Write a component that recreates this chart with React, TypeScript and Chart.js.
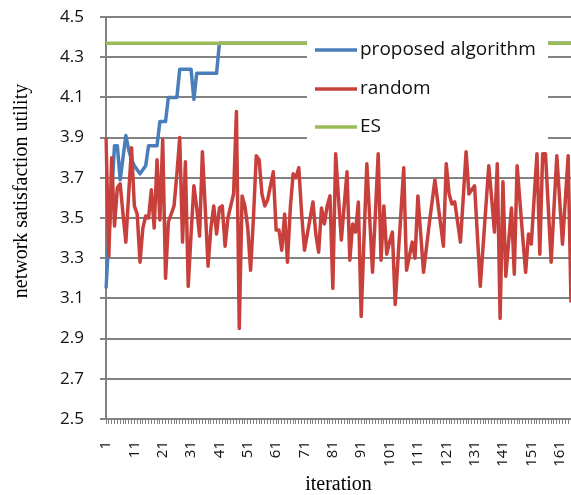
import React, { useEffect, useRef } from 'react';
import { Chart, registerables } from 'chart.js';

Chart.register(...registerables);

const iterationLabels: string[] = Array.from({ length: 165 }, (_, i) => String(i + 1));

const yTickValues = [2.5, 2.7, 2.9, 3.1, 3.3, 3.5, 3.7, 3.9, 4.1, 4.3, 4.5];

const proposedIterations = [1, 2, 3, 4, 5, 6, 7, 8, 9, 10, 11, 12, 13, 14, 15, 16, 19, 20, 22, 23, 26, 27, 31, 32, 33, 40, 41, 165];
const proposedValues = [3.15, 3.40, 3.62, 3.86, 3.86, 3.69, 3.80, 3.91, 3.84, 3.79, 3.76, 3.74, 3.72, 3.74, 3.76, 3.86, 3.86, 3.98, 3.98, 4.10, 4.10, 4.24, 4.24, 4.09, 4.22, 4.22, 4.37, 4.37];

const randomValues = [
  3.90, 3.31, 3.80, 3.46, 3.65, 3.67, 3.52, 3.38, 3.62, 3.85,
  3.56, 3.52, 3.28, 3.45, 3.51, 3.50, 3.64, 3.45, 3.79, 3.49,
  3.89, 3.20, 3.48, 3.52, 3.56, 3.72, 3.90, 3.38, 3.78, 3.16,
  3.42, 3.66, 3.55, 3.41, 3.83, 3.55, 3.26, 3.45, 3.56, 3.42,
  3.55, 3.56, 3.36, 3.50, 3.56, 3.62, 4.03, 2.95, 3.61, 3.56,
  3.45, 3.24, 3.50, 3.81, 3.79, 3.62, 3.56, 3.59, 3.66, 3.73,
  3.44, 3.44, 3.34, 3.52, 3.28, 3.55, 3.72, 3.70, 3.75, 3.52,
  3.34, 3.42, 3.50, 3.58, 3.42, 3.33, 3.55, 3.47, 3.56, 3.61,
  3.15, 3.82, 3.60, 3.39, 3.56, 3.73, 3.29, 3.47, 3.43, 3.58,
  3.01, 3.40, 3.77, 3.50, 3.23, 3.52, 3.82, 3.29, 3.56, 3.32,
  3.38, 3.43, 3.07, 3.30, 3.52, 3.75, 3.24, 3.31, 3.38, 3.30,
  3.61, 3.42, 3.23, 3.35, 3.47, 3.58, 3.69, 3.58, 3.47, 3.36,
  3.77, 3.62, 3.57, 3.58, 3.48, 3.38, 3.60, 3.83, 3.62, 3.64,
  3.66, 3.41, 3.16, 3.36, 3.56, 3.76, 3.60, 3.43, 3.77, 3.00,
  3.68, 3.21, 3.38, 3.55, 3.22, 3.76, 3.58, 3.40, 3.23, 3.42,
  3.37, 3.60, 3.82, 3.32, 3.82, 3.82, 3.55, 3.28, 3.55, 3.81,
  3.59, 3.37, 3.59, 3.81, 3.08,
];

const esIterations = [1, 165];
const esValues = [4.37, 4.37];

const seriesNames = ['proposed algorithm', 'random', 'ES'];
const seriesColors = ['#4A7EBB', '#C8403C', '#9BBB59'];

const xTitle = 'iteration';
const yTitleText = 'network satisfaction utility';

const gridColor = '#828282';

const legendBox = { left: 307, top: 29, width: 241, height: 116 };
const legendRows = [50, 89, 127];

// Horizontal grid lines under the series, placed by the y scale.
const horizontalGrid = {
  id: 'horizontalGrid',
  beforeDatasetsDraw(chart: any) {
    const ctx = chart.ctx;
    const area = chart.chartArea;
    const yScale = chart.scales.y;
    const left = Number(area.left);
    const right = Number(area.right);
    ctx.save();
    ctx.fillStyle = gridColor;
    yTickValues.forEach((v) => {
      let py = Number(yScale.getPixelForValue(v));
      if (!isFinite(py)) {
        py = Number(area.top) + ((4.5 - v) / 2.0) * (Number(area.bottom) - Number(area.top));
      }
      const yy = Math.round(py);
      ctx.fillRect(left - 6, yy - 1, right - left + 6, 2);
    });
    ctx.restore();
  },
};

const legendAndTitle = {
  id: 'legendAndTitle',
  afterDraw(chart: any) {
    const ctx = chart.ctx;
    ctx.save();
    ctx.fillStyle = '#ffffff';
    ctx.fillRect(legendBox.left, legendBox.top, legendBox.width, legendBox.height);
    chart.data.datasets.forEach((ds: any, i: number) => {
      const y = legendRows[i];
      ctx.strokeStyle = ds.borderColor;
      ctx.lineWidth = 3.5;
      ctx.lineCap = 'butt';
      ctx.beginPath();
      ctx.moveTo(315, y);
      ctx.lineTo(357, y);
      ctx.stroke();
      ctx.fillStyle = '#111111';
      ctx.font = '19px "Open Sans"';
      ctx.textAlign = 'left';
      ctx.textBaseline = 'middle';
      ctx.fillText(ds.label, 360, y);
    });
    ctx.restore();

    ctx.save();
    ctx.translate(22, 191);
    ctx.rotate(-Math.PI / 2);
    ctx.font = '20px "Liberation Serif"';
    ctx.fillStyle = '#000000';
    ctx.textAlign = 'center';
    ctx.textBaseline = 'middle';
    ctx.fillText(yTitleText, 0, 0);
    ctx.restore();
  },
};

export default function App() {
  const canvasRef = useRef<HTMLCanvasElement | null>(null);

  useEffect(() => {
    if (!canvasRef.current) return;
    const toPoints = (its: number[], vals: number[]) => its.map((it, k) => ({ x: String(it), y: vals[k] }));
    const chart = new Chart(canvasRef.current, {
      type: 'line',
      data: {
        labels: iterationLabels,
        datasets: [
          {
            label: seriesNames[0],
            data: toPoints(proposedIterations, proposedValues) as any,
            borderColor: seriesColors[0],
            backgroundColor: seriesColors[0],
            borderWidth: 3.5,
            pointRadius: 0,
            tension: 0,
            fill: false,
            borderJoinStyle: 'round',
            order: 3,
          },
          {
            label: seriesNames[1],
            data: randomValues,
            borderColor: seriesColors[1],
            backgroundColor: seriesColors[1],
            borderWidth: 3.5,
            pointRadius: 0,
            tension: 0,
            fill: false,
            borderJoinStyle: 'round',
            order: 2,
          },
          {
            label: seriesNames[2],
            data: toPoints(esIterations, esValues) as any,
            borderColor: seriesColors[2],
            backgroundColor: seriesColors[2],
            borderWidth: 3.5,
            pointRadius: 0,
            tension: 0,
            fill: false,
            order: 1,
          },
        ],
      },
      options: {
        animation: false,
        responsive: false,
        devicePixelRatio: 1,
        layout: { padding: { left: 0, right: 0, top: 17, bottom: 0 } },
        plugins: {
          legend: { display: false },
          tooltip: { enabled: false },
        },
        scales: {
          x: {
            type: 'category',
            offset: false,
            grid: {
              display: true,
              drawOnChartArea: false,
              drawTicks: true,
              tickLength: 5,
              color: gridColor,
            },
            border: { display: true, color: gridColor, width: 2 },
            ticks: {
              autoSkip: false,
              maxRotation: 90,
              minRotation: 90,
              padding: 17,
              color: '#111111',
              font: { family: '"Open Sans"', size: 15 },
              callback: (_v: any, index: number) => (index % 10 === 0 ? iterationLabels[index] : ''),
            },
            title: {
              display: true,
              text: xTitle,
              color: '#000000',
              font: { family: '"Liberation Serif"', size: 20, lineHeight: 1 },
              padding: { top: 0, bottom: 0 },
            },
            afterFit: (scale: any) => {
              scale.height = 76;
              scale.paddingLeft = 0;
              scale.paddingRight = 0;
            },
          },
          y: {
            type: 'linear',
            min: 2.5,
            max: 4.5,
            grid: { display: false },
            border: { display: true, color: gridColor, width: 2 },
            ticks: {
              stepSize: 0.2,
              padding: 14,
              color: '#111111',
              font: { family: '"Open Sans"', size: 17 },
              callback: (v: any) => Number(v).toFixed(1),
            },
            afterFit: (scale: any) => {
              scale.width = 106;
              scale.paddingTop = 0;
              scale.paddingBottom = 0;
            },
          },
        },
      },
      plugins: [horizontalGrid, legendAndTitle],
    });
    return () => chart.destroy();
  }, []);

  return (
    <div style={{ position: 'fixed', left: 0, top: 0, width: 571, height: 495, background: '#ffffff' }}>
      <canvas ref={canvasRef} width={571} height={495} style={{ display: 'block' }} />
    </div>
  );
}
